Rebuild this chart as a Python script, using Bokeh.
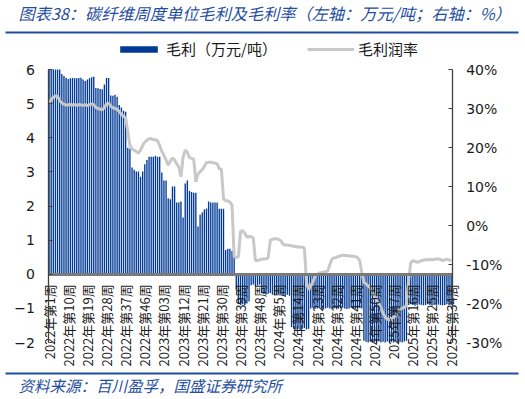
from math import pi
from bokeh.plotting import figure
from bokeh.models import (Range1d, LinearAxis, FixedTicker, Legend, LegendItem,
                          Label, BoxAnnotation, PrintfTickFormatter)
from bokeh.embed import file_html
from bokeh.resources import INLINE

# ---------------- data ----------------
weeks = list(range(190))

profit = [
    6.0, 6.0, 6.0, 6.0, 6.0, 6.0, 5.87, 5.81, 5.76, 5.72, 5.74, 5.75, 5.74, 5.74, 5.75,
    5.76, 5.71, 5.66, 5.71, 5.74, 5.77, 5.79, 5.46, 5.45, 5.43, 5.42, 5.56, 5.75, 5.75, 5.24,
    5.23, 5.26, 5.20, 4.96, 4.89, 4.79, 4.76, 3.71, 3.68, 3.13, 3.06, 3.01, 3.01, 2.86, 3.01,
    3.22, 3.35, 3.44, 3.44, 3.44, 3.47, 3.44, 3.44, 2.98, 2.75, 2.75, 2.23, 2.20, 2.57, 2.57,
    2.10, 2.10, 2.13, 1.66, 2.66, 2.75, 2.44, 2.41, 2.39, 2.39, 1.40, 1.74, 1.81, 1.90, 1.93,
    2.13, 2.10, 2.10, 2.10, 2.10, 1.92, 1.92, 1.92, 0.71, 0.75, 0.75, 0.68, 0.63,
    -0.45, -0.85, -0.9, -0.88, -0.9, -0.86, -0.8,
    -0.32, -0.3, -0.35, -0.33, -0.3,
    -0.55, -0.58, -0.6, -0.57, -0.55, -0.6, -0.62, -0.6, -0.58, -0.6, -0.62, -0.65, -0.6, -0.63,
    -1.55, -1.6, -1.62, -1.6, -1.65, -1.6, -1.58, -1.62, -1.6,
    -1.0, -0.98, -1.02, -1.0, -0.97, -1.0, -1.03, -1.0, -0.98, -1.0, -1.02, -1.0, -0.99,
    -1.01, -1.0, -0.98, -1.0, -1.02, -1.0, -0.97, -1.0, -1.01, -1.0, -0.98, -1.0,
    -1.95, -1.98, -2.0, -1.97, -2.0, -1.98, -2.0, -1.96, -2.0, -1.98, -2.0, -1.97, -2.0,
    -1.99, -2.0, -1.96, -2.0, -1.98, -2.0, -1.97, -1.95,
    -0.9, -0.88, -0.9, -0.92, -0.9, -0.89, -0.9, -0.91, -0.9, -0.88, -0.9, -0.92, -0.9,
    -0.9, -0.89, -0.9, -0.91, -0.9, -0.88, -0.9, -0.9,
]

margin = [
    31.5, 32.3, 32.9, 33.2, 33.1, 32.0, 31.4, 31.1, 30.9, 30.9,
    31.0, 30.9, 31.0, 30.8, 31.0, 30.9, 30.8, 31.0, 30.7, 31.0,
    31.2, 31.0, 30.3, 30.0, 29.8, 29.7, 30.2, 31.2, 31.4, 30.6,
    30.2, 30.0, 29.8, 29.2, 28.5, 28.0, 27.6, 24.0, 20.5, 19.6,
    19.3, 19.0, 18.6, 19.3, 20.5, 21.4, 21.9, 22.2, 22.3, 22.0,
    22.0, 21.7, 20.5, 19.0, 18.0, 16.8, 15.5, 16.5, 17.3, 16.8,
    15.8, 15.0, 12.5, 17.5, 19.3, 18.8, 17.4, 17.2, 17.0, 11.2,
    13.2, 13.8, 14.3, 15.2, 16.1, 16.2, 16.2, 16.1, 16.0, 15.8,
    14.6, 14.4, 6.8, 6.4, 6.3, 6.0, 5.3, -8.0, -8.2, -8.0,
    -1.5, -1.3, -2.0, -3.0, -2.8, -2.9, -3.2, -9.0, -9.0, -8.8,
    -8.6, -8.6, -8.5, -8.3, -3.8, -3.5, -3.4, -3.4, -3.6, -3.9,
    -4.8, -5.0, -5.0, -5.1, -5.2, -5.3, -5.4, -5.5, -5.5, -5.6,
    -5.7, -14.5, -16.5, -15.5, -14.5, -13.0, -12.5, -12.2, -12.1, -12.0,
    -11.8, -11.7, -10.0, -8.6, -8.3, -8.2, -7.9, -7.8, -7.6, -7.7,
    -7.7, -7.8, -7.8, -7.9, -8.0, -8.2, -9.0, -12.0, -14.5, -15.0,
    -15.5, -16.0, -17.0, -18.0, -19.0, -20.0, -21.0, -22.5, -23.5, -24.0,
    -24.3, -24.0, -23.5, -23.0, -22.0, -21.5, -21.2, -21.0, -20.5, -14.0,
    -9.6, -9.0, -9.2, -9.4, -9.3, -9.0, -8.9, -8.8, -8.8, -8.7,
    -8.8, -8.7, -8.6, -8.6, -8.7, -9.0, -8.8, -8.6, -8.8, -9.0,
]

tick_idx = [0, 9, 18, 27, 36, 45, 54, 63, 72, 81, 90, 99, 108, 117, 126, 135,
            144, 153, 162, 171, 180, 189]
tick_labels = ["2022年第1周", "2022年第10周", "2022年第19周", "2022年第28周",
               "2022年第37周", "2022年第46周", "2023年第03周", "2023年第12周",
               "2023年第21周", "2023年第30周", "2023年第39周", "2023年第48周",
               "2024年第5周", "2024年第14周", "2024年第23周", "2024年第32周",
               "2024年第41周", "2024年第50周", "2025年第7周", "2025年第16周",
               "2025年第25周", "2025年第34周"]
left_ticks = [-2, -1, 0, 1, 2, 3, 4, 5, 6]
right_ticks = [-30, -20, -10, 0, 10, 20, 30, 40]

title_text = "图表38：碳纤维周度单位毛利及毛利率（左轴：万元/吨；右轴：%）"
source_text = "资料来源：百川盈孚，国盛证券研究所"

# ---------------- styles / geometry ----------------
BAR = "#003a96"
LINE = "#c8c8c8"
BLUE = "#1f4e9f"
CJK = "Noto Sans CJK SC"
NUM = "DejaVu Sans"

W, H = 525, 399
PL, PR, PT, PB = 47.5, 451.7, 69.0, 342.0      # plot box in pixels
n = len(weeks)
xs = (PR - PL) / n
x0 = -0.5 - PL / xs
x1 = -0.5 + (W - PL) / xs
ys = (PB - PT) / 8.0
y_top = 6 + PT / ys
y_bot = -2 - (H - PB) / ys
rs = (PB - PT) / 70.0
r_top = 40 + PT / rs
r_bot = -30 - (H - PB) / rs

p = figure(width=W, height=H, output_backend="svg", toolbar_location=None,
           x_range=Range1d(x0, x1), y_range=Range1d(y_bot, y_top),
           x_axis_location=None, y_axis_location=None, min_border=0)
p.extra_y_ranges = {"right": Range1d(r_bot, r_top)}
p.outline_line_color = None
p.border_fill_color = "white"
for g in p.grid:
    g.visible = False

bars = p.vbar(x=weeks, top=profit, bottom=0, width=0.64, fill_color=BAR, line_color=None)
line = p.line(x=weeks, y=margin, y_range_name="right", line_color=LINE, line_width=3)

# left axis
ly = LinearAxis(ticker=FixedTicker(ticks=left_ticks), fixed_location=-0.5, bounds=(-2, 6))
# right axis
ry = LinearAxis(y_range_name="right", ticker=FixedTicker(ticks=right_ticks),
                formatter=PrintfTickFormatter(format="%d%%"),
                fixed_location=n - 0.5, bounds=(-30, 40))
for ax, so in ((ly, 13), (ry, 14)):
    ax.axis_line_color = "#404040"
    ax.axis_line_width = 1.3
    ax.major_tick_line_color = "#404040"
    ax.major_tick_in = 4
    ax.major_tick_out = 0
    ax.minor_tick_line_color = None
    ax.major_label_standoff = so
    ax.major_label_text_font = NUM
    ax.major_label_text_font_size = "14px"
    ax.major_label_text_color = "#1a1a1a"
p.add_layout(ly, "left")
p.add_layout(ry, "right")

# category axis at zero
xa = LinearAxis(ticker=FixedTicker(ticks=tick_idx),
                 major_label_overrides={t: s for t, s in zip(tick_idx, tick_labels)},
                 fixed_location=0, bounds=(-0.5, n - 0.5))
xa.axis_line_color = "#7a7a7a"
xa.axis_line_width = 3
xa.major_tick_line_color = None
xa.minor_tick_line_color = None
xa.major_label_orientation = pi / 2
xa.major_label_standoff = 4
xa.major_label_text_font = CJK
xa.major_label_text_font_size = "13px"
xa.major_label_text_color = "#1a1a1a"
p.add_layout(xa, "below")

legend = Legend(items=[LegendItem(label="毛利（万元/吨）", renderers=[bars]),
                       LegendItem(label="毛利润率", renderers=[line])],
                orientation="horizontal", location=(115, H - 59),
                glyph_width=47, glyph_height=8, label_height=20, spacing=30,
                label_standoff=4, padding=0, margin=0, border_line_color=None,
                background_fill_alpha=0, label_text_font=CJK,
                label_text_font_size="15px", label_text_color="#1a1a1a")
p.add_layout(legend, "center")

# title, rules, source
p.add_layout(Label(x=18, y=H - 12, x_units="screen", y_units="screen",
                   text=title_text, text_font=CJK, text_font_size="16.2px",
                   text_font_style="italic", text_color=BLUE, text_baseline="middle"))
p.add_layout(Label(x=18, y=H - 384, x_units="screen", y_units="screen",
                   text=source_text, text_font=CJK, text_font_size="15.5px",
                   text_font_style="italic", text_color=BLUE, text_baseline="middle"))
for yy in (32, 373):
    p.add_layout(BoxAnnotation(left=5, right=518, top=yy - 1, bottom=yy + 1,
                               left_units="canvas", right_units="canvas",
                               top_units="canvas", bottom_units="canvas",
                               fill_color=BLUE, fill_alpha=1, line_color=None))

open("out.html", "w").write(file_html(p, INLINE))
